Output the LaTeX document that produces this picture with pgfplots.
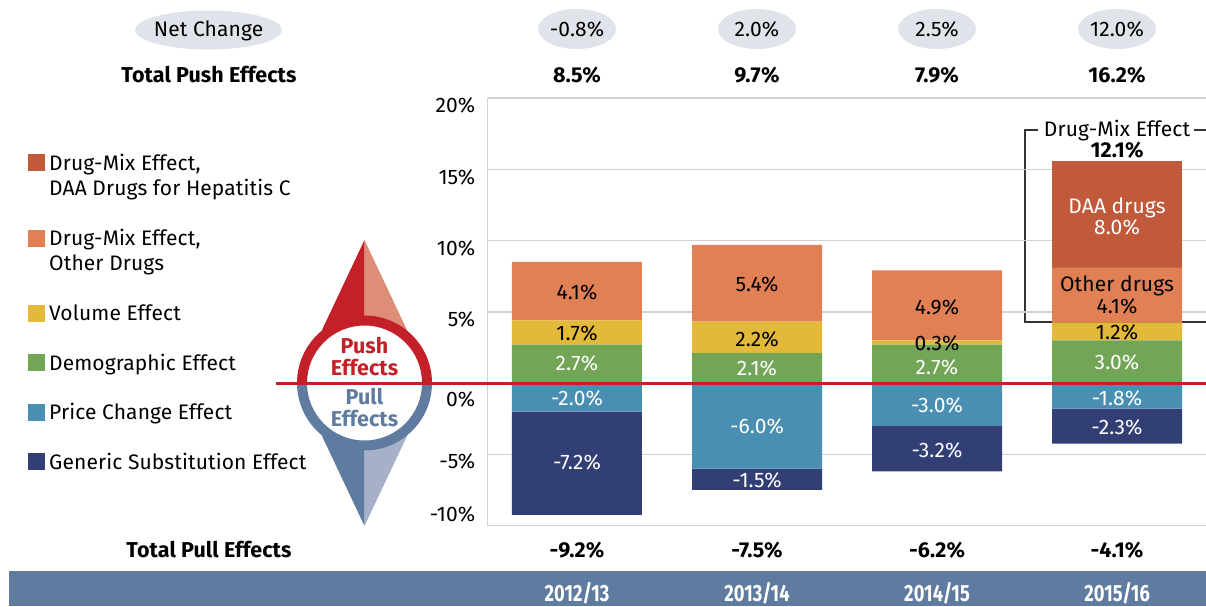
\documentclass[border=0pt]{standalone}
\usepackage{fontspec}
\setmainfont{Fira Sans}[LetterSpace=0.5]
\usepackage{pgfplots}
\usepackage{pgfplotstable}
\pgfplotsset{compat=1.18}
\definecolor{cDaa}{HTML}{C05A3A}
\definecolor{cOther}{HTML}{E18055}
\definecolor{cVol}{HTML}{E3B93A}
\definecolor{cDemo}{HTML}{72A555}
\definecolor{cPrice}{HTML}{4A8FB2}
\definecolor{cGen}{HTML}{313F75}
\definecolor{cRed}{HTML}{C4202A}
\definecolor{cRedL}{HTML}{DE8E78}
\definecolor{cBlue}{HTML}{5F7CA0}
\definecolor{cBlueL}{HTML}{A5B1C8}
\definecolor{cEll}{HTML}{E0E3EA}
\definecolor{cGrid}{HTML}{D2D2D2}
\pgfplotstableread{
x demo vol other daa
0 2.7 1.7 4.1 0
1 2.1 2.2 5.4 0
2 2.7 0.3 4.9 0
3 3.0 1.25 3.85 7.45
}\pushdata
\pgfplotstableread{
x price generic
0 -2.0 -7.25
1 -6.0 -1.5
2 -3.0 -3.2
3 -1.8 -2.45
}\pulldata
\newcommand\fs{\fontsize{21}{25}\selectfont}
\newcommand\fb{\fontsize{21.5}{25}\selectfont\bfseries}
\newcommand\T[4][black]{\node[text=#1,anchor=base,inner sep=0pt,font=\fs] at ({#2},{606-#3-7.3}) {#4};}
\newcommand\B[4][black]{\node[text=#1,anchor=base,inner sep=0pt,font=\fb] at ({#2},{606-#3-7.3}) {#4};}
\newcommand\Ls[4][black]{\node[text=#1,anchor=base west,inner sep=0pt,font=\fs] at ({#2},{606-#3-7.3}) {#4};}
\newcommand\Sq[2]{\fill[#2] (28,{606-#1+8.5}) rectangle (45,{606-#1-8.5});}
\pgfplotsset{base/.style={
  scale only axis, width=718.5pt, height=427.5pt,
  at={(487.5pt,80.5pt)}, anchor=south west,
  xmin=-0.497, xmax=3.494, ymin=-10, ymax=20,
  ybar stacked, bar width=130pt, bar shift=0pt,
  clip=false}}
\begin{document}
\begin{tikzpicture}
\path[use as bounding box] (0pt,0pt) rectangle (1206pt,606pt);
\begin{scope}[x=1pt,y=1pt]
\fill[cBlue] (9,0) rectangle (1206,35);
\draw[black!80,line width=1.2pt] (1038,{606-130}) -- (1025,{606-130}) -- (1025,{606-322}) -- (1206,{606-322});
\draw[black!80,line width=1.2pt] (1194,{606-130}) -- (1206,{606-130});
\end{scope}
\begin{axis}[base,
  axis x line*=bottom, axis y line*=left,
  axis line style={cGrid,line width=1.5pt,-},
  major tick length=0pt,
  ymajorgrids, grid style={cGrid,line width=1.5pt},
  ytick={-10,-5,0,5,10,15,20},
  yticklabels={\raisebox{4pt}[0pt][0pt]{-10\%},\raisebox{-14pt}[0pt][0pt]{-5\%},\raisebox{-23.5pt}[0pt][0pt]{0\%},\raisebox{-15pt}[0pt][0pt]{5\%},\raisebox{-15pt}[0pt][0pt]{10\%},\raisebox{-15.5pt}[0pt][0pt]{15\%},\raisebox{-14.5pt}[0pt][0pt]{20\%}},
  yticklabel style={font=\fs,inner xsep=0pt,xshift=-12pt},
  xtick=data,
  xticklabels={2012/13,2013/14,2014/15,2015/16},
  xticklabel style={font=\fontsize{23.5}{27}\selectfont\bfseries,text=white,xscale=0.78,yshift=-53pt},
]
\addplot[fill=cDemo,draw=none] table[x=x,y=demo]{\pushdata};
\addplot[fill=cVol,draw=none] table[x=x,y=vol]{\pushdata};
\addplot[fill=cOther,draw=none] table[x=x,y=other]{\pushdata};
\addplot[fill=cDaa,draw=none] table[x=x,y=daa]{\pushdata};
\end{axis}
\begin{axis}[base,hide axis]
\addplot[fill=cPrice,draw=none] table[x=x,y=price]{\pulldata};
\addplot[fill=cGen,draw=none] table[x=x,y=generic]{\pulldata};
\end{axis}
\begin{scope}[x=1pt,y=1pt]
% compass
\fill[cRed] (364.5,366) -- (322,276) -- (364.5,276) -- cycle;
\fill[cRedL] (364.5,366) -- (407,276) -- (364.5,276) -- cycle;
\fill[cBlue] (364.5,80) -- (322,170) -- (364.5,170) -- cycle;
\fill[cBlueL] (364.5,80) -- (407,170) -- (364.5,170) -- cycle;
\fill[white] (364.5,223) circle (60);
\fill[cRed,even odd rule] (297,223) arc[start angle=180,end angle=0,radius=67.5] -- (422,223) arc[start angle=0,end angle=180,radius=57.5] -- cycle;
\fill[cBlue] (297,223) arc[start angle=180,end angle=360,radius=67.5] -- (422,223) arc[start angle=360,end angle=180,radius=57.5] -- cycle;
\draw[cRed,line width=3pt] (276,223) -- (1206,223);
\B[cRed]{364.5}{346}{Push}
\B[cRed]{364.5}{368}{Effects}
\B[cBlue]{364.5}{397}{Pull}
\B[cBlue]{364.5}{419}{Effects}
% header rows
\fill[cEll] (208.5,576) ellipse (73.5 and 19.5);
\T{208.5}{29}{Net Change}
\B{209}{75}{Total Push Effects}
\B{209}{550}{Total Pull Effects}
\foreach \xx/\nc/\pu/\pl in {577/-0.8\%/8.5\%/-9.2\%,757/2.0\%/9.7\%/-7.5\%,937/2.5\%/7.9\%/-6.2\%,1117/12.0\%/16.2\%/-4.1\%}{
  \fill[cEll] (\xx,577) ellipse (39 and 20);
  \T{\xx}{29}{\nc}
  \B{\xx}{75}{\pu}
  \B{\xx}{550}{\pl}
}
% legend
\Sq{163}{cDaa}\Ls{49}{163}{Drug-Mix Effect,}\Ls{49}{188}{DAA Drugs for Hepatitis C}
\Sq{238}{cOther}\Ls{49}{238}{Drug-Mix Effect,}\Ls{49}{263}{Other Drugs}
\Sq{313}{cVol}\Ls{49}{313}{Volume Effect}
\Sq{362.5}{cDemo}\Ls{49}{363}{Demographic Effect}
\Sq{412}{cPrice}\Ls{49}{412}{Price Change Effect}
\Sq{461.5}{cGen}\Ls{49}{462}{Generic Substitution Effect}
% bar labels
\T{577}{292}{4.1\%}\T{577}{333}{1.7\%}\T[white]{577}{363}{2.7\%}\T[white]{577}{398}{-2.0\%}\T[white]{577}{462}{-7.2\%}
\T{757}{284}{5.4\%}\T{757}{339}{2.2\%}\T[white]{757}{368}{2.1\%}\T[white]{757}{426}{-6.0\%}\T[white]{757}{480}{-1.5\%}
\T{937}{307}{4.9\%}\T{937}{343}{0.3\%}\T[white]{937}{367}{2.7\%}\T[white]{937}{405}{-3.0\%}\T[white]{937}{450}{-3.2\%}
\T[white]{1117}{206}{DAA drugs}\T[white]{1117}{227}{8.0\%}
\T{1117}{284}{Other drugs}\T{1117}{306}{4.1\%}\T{1117}{332}{1.2\%}\T[white]{1117}{362}{3.0\%}\T[white]{1117}{398}{-1.8\%}\T[white]{1117}{427}{-2.3\%}
\T{1117}{129}{Drug-Mix Effect}
\B{1117}{150}{12.1\%}
\end{scope}
\end{tikzpicture}
\end{document}
